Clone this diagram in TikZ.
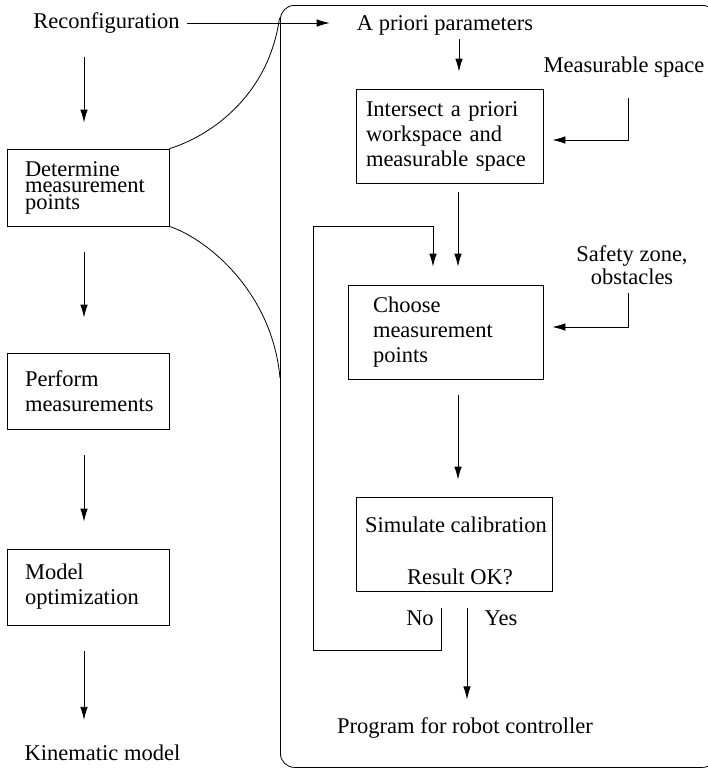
\documentclass[tikz,border=0pt]{standalone}
\usepackage{fontspec}
\setmainfont{Liberation Serif}
\usetikzlibrary{arrows.meta,calc}
\tikzset{
  ln/.style={line width=0.8pt},
  arr/.style={ln,-{Latex[length=13pt,width=7.5pt]}},
  txt/.style={inner sep=0pt,font=\fontsize{22.5}{25}\selectfont},
  box/.style={draw,ln,rectangle,inner ysep=0pt,align=left,font=\fontsize{22.5}{25}\selectfont},
}
\begin{document}
\begin{tikzpicture}[x=1pt,y=-1pt]
\useasboundingbox (0,0) rectangle (708,769);
\begin{scope}
\clip (0,0) rectangle (708,769);
\node[draw,ln,rounded corners=14pt,anchor=north west,minimum width=436pt,minimum height=762pt,inner sep=0pt] (frame) at (280,5) {};
\end{scope}

% left column
\node[txt] (reconf) at (106.5,23) {Reconfiguration};
\node[box,minimum width=162pt,minimum height=77pt,inner xsep=18pt,text width=126pt,font=\fontsize{22.5}{16.5}\selectfont] (det) at (88,187.5) {Determine\\measurement\\points};
\node[box,minimum width=162pt,minimum height=76pt,inner xsep=18pt,text width=126pt] (perf) at (88,391) {Perform\\measurements};
\node[box,minimum width=162pt,minimum height=76pt,inner xsep=18pt,text width=126pt] (model) at (88,587) {Model\\optimization};
\node[txt] (kin) at (102.5,753) {Kinematic model};

% right column
\node[txt] (apriori) at (445,25) {A priori parameters};
\node[txt] (meas) at (624,67) {Measurable space};
\node[box,minimum width=187pt,minimum height=94pt,inner xsep=10pt,text width=167pt] (inter) at (449.5,136) {Intersect a priori\\workspace and\\measurable space};
\node[txt,align=center,font=\fontsize{22.5}{23}\selectfont] (safety) at (632,265) {Safety zone,\\obstacles};
\node[box,minimum width=195pt,minimum height=94pt,inner xsep=25pt,text width=145pt] (choose) at (445.5,332) {Choose\\measurement\\points};
\node[draw,ln,minimum width=196pt,minimum height=94pt,inner sep=0pt] (sim) at (454,544) {};
\node[txt] (simt) at (456,525) {Simulate calibration};
\node[txt] (res) at (460,577) {Result OK?};
\node[txt] (no) at (420,618) {No};
\node[txt] (yes) at (501,618) {Yes};
\node[txt] (prog) at (465,728) {Program for robot controller};
\coordinate (looptl) at (313,226);

% curves
\draw[ln] (det.north east) .. controls (205,138) and (268,100) .. (279.5,18);
\draw[ln] (det.south east) .. controls (205,238) and (272,290) .. (280,378);

% left arrows
\draw[arr] ([xshift=7pt]reconf.east) -- ([xshift=-27pt]reconf.east -| apriori.west);
\draw[arr,shorten <=23pt,shorten >=26pt] ([xshift=-22.5pt]reconf.south) -- ([xshift=-4pt]det.north);
\draw[arr,shorten <=26pt,shorten >=35pt] ([xshift=-4pt]det.south) -- ([xshift=-4pt]perf.north);
\draw[arr,shorten <=26pt,shorten >=27pt] ([xshift=-4pt]perf.south) -- ([xshift=-4pt]model.north);
\draw[arr,shorten <=26pt,shorten >=25pt] ([xshift=-4pt]model.south) -- ([xshift=-18.5pt]kin.north);

% right arrows
\draw[arr,shorten <=4pt,shorten >=17pt] ([xshift=14pt]apriori.south) -- ([xshift=9.5pt]inter.north);
\draw[arr] ([xshift=4pt,yshift=-21pt]meas.south) |- ([xshift=9pt,yshift=-4pt]inter.east);
\draw[arr,shorten <=9pt,shorten >=18pt] ([xshift=8.5pt]inter.south) -- ([xshift=12.5pt]choose.north);
\draw[arr] ([xshift=-4pt,yshift=-8pt]safety.south) |- ([xshift=9pt,yshift=5pt]choose.east);
\draw[arr,shorten <=16pt,shorten >=17pt] ([xshift=12.5pt]choose.south) -- ([xshift=4pt]sim.north);
\draw[arr] ([xshift=-13pt,yshift=-17pt]sim.south) -- ++(0,42) -| (looptl) -| ([xshift=-12.5pt,yshift=18pt]choose.north);
\draw[arr,shorten <=17pt,shorten >=18pt] ([xshift=13pt]sim.south) -- ([xshift=2pt]prog.north);
\end{tikzpicture}
\end{document}
